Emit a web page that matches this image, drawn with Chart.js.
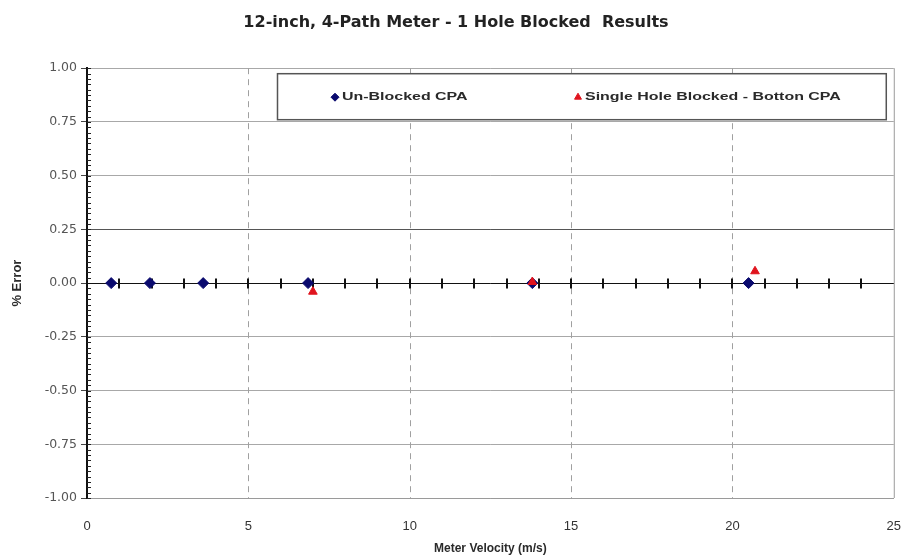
<!DOCTYPE html>
<html lang="en">
<head>
  <meta charset="UTF-8">
  <title>12-inch, 4-Path Meter - 1 Hole Blocked Results</title>
  <script src="https://cdn.jsdelivr.net/npm/chart.js"></script>
  <style>
    html, body { margin: 0; padding: 0; background: #fff; }
    #wrap { width: 914px; height: 556px; }
  </style>
</head>
<body>
  <div id="wrap"><canvas id="grafica" width="914" height="556"></canvas></div>

  <script>
    // datos
    const velUnblocked = [0.75, 1.95, 3.6, 6.85, 13.8, 20.5];
    const errUnblocked = [0, 0, 0, 0, 0, 0];
    const velBlocked = [7.0, 13.8, 20.7];
    const errBlocked = [-0.04, 0.005, 0.055];

    const xTicks = [0, 5, 10, 15, 20, 25];
    const yTicks = [-1, -0.75, -0.5, -0.25, 0, 0.25, 0.5, 0.75, 1];
    const dashedLines = [5, 10, 15, 20];
    const legendLabels = ['Un-Blocked CPA', 'Single Hole Blocked - Botton CPA'];

    const fuente = "'Liberation Sans', Arial, sans-serif";
    const fuenteAncha = "'DejaVu Sans', Verdana, sans-serif";

    // ejes extra: linea de cero, marcas menores, lineas punteadas, borde derecho
    const decoracion = {
      id: 'decoracion',
      beforeDatasetsDraw(chart) {
        const ctx = chart.ctx;
        const xs = chart.scales.x, ys = chart.scales.y;
        const a = chart.chartArea;
        ctx.save();

        // lineas verticales punteadas
        ctx.strokeStyle = '#a0a0a0';
        ctx.lineWidth = 1;
        ctx.setLineDash([6, 5]);
        dashedLines.forEach(v => {
          const px = Math.round(xs.getPixelForValue(v)) + 0.5;
          ctx.beginPath();
          ctx.moveTo(px, a.top);
          ctx.lineTo(px, a.bottom);
          ctx.stroke();
        });
        ctx.setLineDash([]);

        // borde derecho
        ctx.strokeStyle = '#9a9a9a';
        ctx.beginPath();
        ctx.moveTo(a.right + 0.5, a.top);
        ctx.lineTo(a.right + 0.5, a.bottom);
        ctx.stroke();

        // marcas menores del eje y
        ctx.strokeStyle = '#222';
        for (let i = -40; i <= 40; i++) {
          const py = Math.round(ys.getPixelForValue(i * 0.025)) + 0.5;
          ctx.beginPath();
          ctx.moveTo(a.left, py);
          ctx.lineTo(a.left + 4, py);
          ctx.stroke();
        }

        // linea de cero con marcas
        const y0 = Math.round(ys.getPixelForValue(0)) + 0.5;
        ctx.strokeStyle = '#111';
        ctx.beginPath();
        ctx.moveTo(a.left, y0);
        ctx.lineTo(a.right, y0);
        ctx.stroke();
        ctx.lineWidth = 2;
        for (let v = 1; v < 25; v++) {
          const px = Math.round(xs.getPixelForValue(v));
          ctx.beginPath();
          ctx.moveTo(px, y0 - 5);
          ctx.lineTo(px, y0 + 5);
          ctx.stroke();
        }
        ctx.restore();
      },
      afterDraw(chart) {
        // leyenda con recuadro dentro del area
        const ctx = chart.ctx;
        const a = chart.chartArea;
        const bx = a.left + 190, by = a.top + 5;
        const bw = a.right - 8 - bx, bh = 46;
        ctx.save();
        ctx.fillStyle = '#fff';
        ctx.fillRect(bx, by, bw, bh);
        ctx.strokeStyle = '#555';
        ctx.lineWidth = 1.5;
        ctx.strokeRect(bx + 0.5, by + 0.5, bw, bh);

        const cy = by + bh / 2 + 1;
        const sets = chart.data.datasets;
        const posX = [bx + 58, bx + 301];
        sets.forEach((ds, i) => {
          ctx.fillStyle = ds.backgroundColor;
          ctx.strokeStyle = ds.borderColor;
          ctx.lineWidth = 1;
          Chart.helpers.drawPoint(ctx, {
            pointStyle: ds.pointStyle, radius: 4, rotation: 0,
            borderWidth: 1
          }, posX[i], cy);
          // texto estirado como en la imagen original
          ctx.save();
          ctx.translate(posX[i] + 7, cy);
          ctx.scale(1.45, 1);
          ctx.font = 'bold 11px ' + fuente;
          ctx.textBaseline = 'middle';
          ctx.fillStyle = '#2a2a2a';
          ctx.fillText(legendLabels[i], 0, 0);
          ctx.restore();
        });
        ctx.restore();
      }
    };

    const ctx = document.getElementById('grafica').getContext('2d');
    new Chart(ctx, {
      type: 'scatter',
      data: {
        datasets: [{
          label: legendLabels[0],
          data: velUnblocked.map((v, i) => ({ x: v, y: errUnblocked[i] })),
          pointStyle: 'rectRot',
          pointRadius: 5.5,
          backgroundColor: '#0a0a6e',
          borderColor: '#0a0a6e',
          order: 1
        }, {
          label: legendLabels[1],
          data: velBlocked.map((v, i) => ({ x: v, y: errBlocked[i] })),
          pointStyle: 'triangle',
          pointRadius: 5,
          backgroundColor: '#e0141e',
          borderColor: '#e0141e',
          order: 0
        }]
      },
      options: {
        responsive: false,
        animation: false,
        layout: { padding: { left: 10, right: 12, top: 0, bottom: 0 } },
        plugins: {
          legend: { display: false },
          tooltip: { enabled: false },
          title: {
            display: true,
            text: '12-inch, 4-Path Meter - 1 Hole Blocked  Results',
            color: '#222',
            font: { family: fuenteAncha, size: 16, weight: 'bold' },
            padding: { top: 13, bottom: 36 }
          }
        },
        scales: {
          x: {
            type: 'linear',
            min: 0, max: 25,
            afterBuildTicks: s => { s.ticks = xTicks.map(v => ({ value: v })); },
            afterFit: s => { s.height = 58; },
            grid: { display: false },
            border: { color: '#9a9a9a', width: 1 },
            ticks: {
              color: '#333',
              padding: 13,
              font: { family: fuente, size: 13 }
            },
            title: {
              display: true,
              text: 'Meter Velocity (m/s)',
              color: '#2a2a2a',
              font: { family: fuente, size: 12, weight: 'bold' },
              padding: { top: 4, bottom: 0 }
            }
          },
          y: {
            min: -1, max: 1,
            afterBuildTicks: s => { s.ticks = yTicks.map(v => ({ value: v })); },
            afterFit: s => { s.width = 77; },
            grid: {
              color: c => c.tick && Math.abs(c.tick.value - 0.25) < 1e-9 ? '#555' : '#a8a8a8',
              tickColor: '#444',
              tickLength: 6,
              lineWidth: 1
            },
            border: { color: '#111', width: 2 },
            ticks: {
              color: '#555',
              padding: 4,
              font: { family: fuenteAncha, size: 12.5 },
              callback: v => v.toFixed(2)
            },
            title: {
              display: true,
              text: '% Error',
              color: '#2a2a2a',
              font: { family: fuente, size: 13, weight: 'bold' },
              padding: { top: 0, bottom: 2 }
            }
          }
        }
      },
      plugins: [decoracion]
    });
  </script>
</body>
</html>
